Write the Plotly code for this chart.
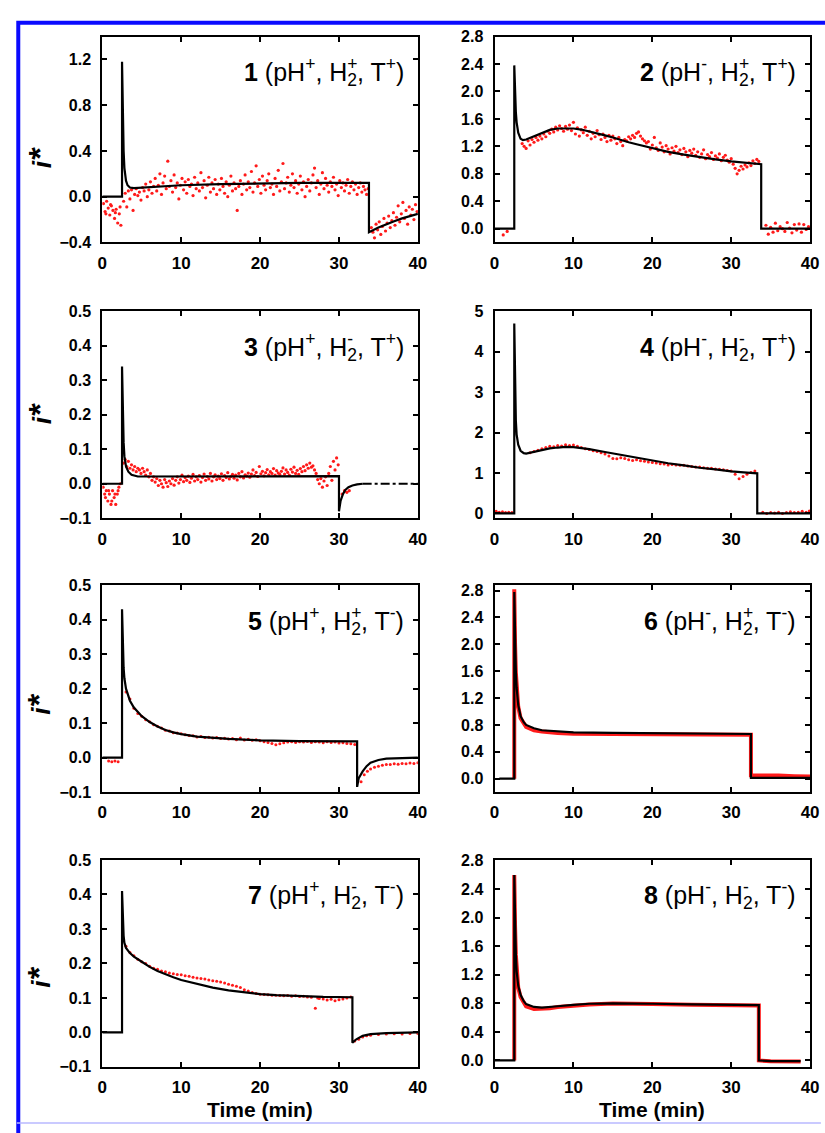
import plotly.graph_objects as go

W, H = 825, 1133
FONT = "Liberation Sans, Arial, sans-serif"
RED = "#ff1a1a"

# ---------------- panel 1 (pH+, H2+, T+) ----------------
fit1 = [(0, 0), (2.5, 0), (2.5, 1.18), (2.6, 0.7), (2.7, 0.4), (2.8, 0.25), (2.9, 0.18),
        (3.0, 0.14), (3.2, 0.10), (3.5, 0.08), (4, 0.075), (5, 0.08), (7, 0.09), (10, 0.10),
        (15, 0.11), (20, 0.115), (25, 0.12), (33.8, 0.12), (33.8, -0.31), (35, -0.27),
        (36, -0.24), (37, -0.215), (38, -0.19), (39, -0.17), (40, -0.15)]
p1_t = [0.15, 0.35, 0.55, 0.75, 0.95, 1.15, 1.35, 1.55, 1.75, 1.95, 2.15, 2.35, 0.45, 1.05, 1.65, 2.25,
        2.7, 2.9, 3.1, 3.3, 3.5, 3.7, 3.9, 4.1, 4.3, 4.5,
        4.7, 4.9, 5.1, 5.3, 5.5, 5.7, 5.9, 6.1, 6.3, 6.5,
        6.7, 6.9, 7.1, 7.3, 7.5, 7.7, 7.9, 8.1, 8.3, 8.5,
        8.7, 8.9, 9.1, 9.3, 9.5, 9.7, 9.9, 10.1, 10.3, 10.5,
        10.7, 10.9, 11.1, 11.3, 11.5, 11.7, 11.9, 12.1, 12.3, 12.5,
        12.7, 12.9, 13.1, 13.3, 13.5, 13.7, 13.9, 14.1, 14.3, 14.5,
        14.7, 14.9, 15.1, 15.3, 15.5, 15.7, 15.9, 16.1, 16.3, 16.5,
        16.7, 16.9, 17.1, 17.3, 17.5, 17.7, 17.9, 18.1, 18.3, 18.5,
        18.7, 18.9, 19.1, 19.3, 19.5, 19.7, 19.9, 20.1, 20.3, 20.5,
        20.7, 20.9, 21.1, 21.3, 21.5, 21.7, 21.9, 22.1, 22.3, 22.5,
        22.7, 22.9, 23.1, 23.3, 23.5, 23.7, 23.9, 24.1, 24.3, 24.5,
        24.7, 24.9, 25.1, 25.3, 25.5, 25.7, 25.9, 26.1, 26.3, 26.5,
        26.7, 26.9, 27.1, 27.3, 27.5, 27.7, 27.9, 28.1, 28.3, 28.5,
        28.7, 28.9, 29.1, 29.3, 29.5, 29.7, 29.9, 30.1, 30.3, 30.5,
        30.7, 30.9, 31.1, 31.3, 31.5, 31.7, 31.9, 32.1, 32.3, 32.5,
        32.7, 32.9, 33.1, 33.3, 33.5, 33.7,
        34.1, 34.3, 34.5, 34.7, 34.9, 35.1, 35.3, 35.5, 35.7, 35.9,
        36.1, 36.3, 36.5, 36.7, 36.9, 37.1, 37.3, 37.5, 37.7, 37.9,
        38.1, 38.3, 38.5, 38.7, 38.9, 39.1, 39.3, 39.5, 39.7, 39.9]
p1_y = [-0.06, -0.13, -0.04, -0.10, -0.16, -0.08, -0.12, -0.19, -0.11, -0.23, -0.15, -0.25, -0.15, -0.07, -0.14, -0.09,
        -0.04, 0.03, -0.09, 0.05, -0.02, 0.06, -0.12, 0.02, 0.07, 0.01,
        0.04, -0.03, 0.08, 0.05, 0.11, 0.00, 0.06, 0.13, 0.03, 0.09,
        0.16, 0.05, 0.10, 0.20, 0.02, 0.12, 0.18, 0.07, 0.31, 0.09,
        0.14, 0.04, 0.19, 0.08, 0.12, -0.02, 0.10, 0.16, 0.06, 0.13,
        0.03, 0.15, 0.09, 0.11, 0.01, 0.17, 0.07, 0.12, 0.05, 0.21,
        0.08, 0.14, -0.01, 0.10, 0.17, 0.04, 0.12, 0.07, 0.15, 0.02,
        0.11, 0.06, 0.16, 0.09, 0.03, 0.13, 0.00, 0.10, 0.18, 0.05,
        0.12, 0.07, -0.12, 0.09, 0.14, 0.02, 0.11, 0.19, 0.06, 0.13,
        0.08, 0.22, 0.04, 0.12, 0.27, 0.09, 0.15, 0.03, 0.18, 0.10,
        0.06, 0.14, 0.20, 0.08, 0.11, 0.02, 0.16, 0.09, 0.23, 0.05,
        0.13, 0.29, 0.07, 0.12, 0.17, 0.04, 0.10, 0.20, 0.08, 0.14,
        0.03, 0.11, 0.18, 0.06, 0.13, 0.00, 0.09, 0.15, 0.05, 0.12,
        0.19, 0.25, 0.08, 0.14, 0.02, 0.11, 0.21, 0.07, 0.16, 0.10,
        0.04, 0.13, 0.09, 0.17, 0.06, 0.11, 0.01, 0.14, 0.08, 0.12,
        0.05, 0.10, 0.15, 0.03, 0.09, 0.13, 0.06, 0.11, 0.02, 0.08,
        0.12, 0.04, 0.09, 0.06, 0.02, 0.07,
        -0.27, -0.31, -0.36, -0.24, -0.29, -0.22, -0.33, -0.26, -0.19, -0.30,
        -0.23, -0.17, -0.27, -0.21, -0.14, -0.25, -0.18, -0.08, -0.22, -0.15,
        -0.05, -0.19, -0.12, -0.24, -0.09, -0.16, -0.11, -0.20, -0.07, -0.13]

# ---------------- panel 2 (pH-, H2+, T+) ----------------
fit2 = [(0, 0), (2.5, 0), (2.5, 2.38), (2.6, 1.95), (2.7, 1.7), (2.8, 1.55), (3.0, 1.40),
        (3.3, 1.31), (3.6, 1.29), (4, 1.30), (5, 1.35), (6, 1.40), (7, 1.44), (8, 1.46),
        (9, 1.465), (10, 1.46), (11, 1.445), (12, 1.42), (13, 1.39), (14, 1.36), (15, 1.33),
        (16, 1.29), (17, 1.26), (18, 1.23), (19, 1.20), (20, 1.17), (22, 1.12), (24, 1.08),
        (26, 1.04), (28, 1.01), (30, 0.98), (32, 0.955), (33.8, 0.94), (33.8, 0), (40, 0)]
p2_t = [1.1, 1.6,
        3.5, 3.75, 4.0, 4.25, 4.5, 4.75, 5.0, 5.25,
        5.5, 5.75, 6.0, 6.25, 6.5, 6.75, 7.0, 7.25,
        7.5, 7.75, 8.0, 8.25, 8.5, 8.75, 9.0, 9.25,
        9.5, 9.75, 10.0, 10.25, 10.5, 10.75, 11.0, 11.25,
        11.5, 11.75, 12.0, 12.25, 12.5, 12.75, 13.0, 13.25,
        13.5, 13.75, 14.0, 14.25, 14.5, 14.75, 15.0, 15.25,
        15.5, 15.75, 16.0, 16.25, 16.5, 16.75, 17.0, 17.25,
        17.5, 17.75, 18.0, 18.25, 18.5, 18.75, 19.0, 19.25,
        19.5, 19.75, 20.0, 20.25, 20.5, 20.75, 21.0, 21.25,
        21.5, 21.75, 22.0, 22.25, 22.5, 22.75, 23.0, 23.25,
        23.5, 23.75, 24.0, 24.25, 24.5, 24.75, 25.0, 25.25,
        25.5, 25.75, 26.0, 26.25, 26.5, 26.75, 27.0, 27.25,
        27.5, 27.75, 28.0, 28.25, 28.5, 28.75, 29.0, 29.25,
        29.5, 29.75, 30.0, 30.25, 30.5, 30.75, 31.0, 31.25,
        31.5, 31.75, 32.0, 32.25, 32.5, 32.75, 33.0, 33.25,
        33.5,
        34.4, 34.7, 35.0, 35.3, 35.6, 35.9, 36.2, 36.5, 36.8, 37.1,
        37.4, 37.7, 38.0, 38.3, 38.6, 38.9, 39.2, 39.5, 39.8]
p2_y = [-0.09, -0.04,
        1.24, 1.20, 1.17, 1.28, 1.22, 1.30, 1.26, 1.33,
        1.29, 1.35, 1.31, 1.38, 1.34, 1.42, 1.39, 1.45,
        1.41, 1.48, 1.44, 1.50, 1.46, 1.42, 1.49, 1.45,
        1.51, 1.43, 1.55, 1.38, 1.47, 1.35, 1.44, 1.40,
        1.48, 1.36, 1.42, 1.31, 1.39, 1.34, 1.43, 1.37,
        1.30, 1.38, 1.33, 1.27, 1.36, 1.29, 1.35, 1.31,
        1.24, 1.33, 1.27, 1.21, 1.30, 1.28, 1.34, 1.31,
        1.36, 1.33, 1.39, 1.41, 1.35, 1.31, 1.28, 1.25,
        1.27, 1.16, 1.22, 1.33, 1.18, 1.14, 1.25, 1.19,
        1.12, 1.21, 1.16, 1.09, 1.18, 1.13, 1.20, 1.11,
        1.15, 1.08, 1.17, 1.12, 1.05, 1.14, 1.10, 1.16,
        1.07, 1.12, 1.04, 1.09, 1.15, 1.02, 1.08, 1.05,
        1.11, 1.01, 1.06, 1.03, 1.09, 0.99, 1.04, 1.07,
        1.00, 0.97, 1.02, 0.94, 0.88, 0.80, 0.85, 0.91,
        0.87, 0.93, 0.90, 0.96, 0.92, 0.99, 0.95, 1.01,
        0.98,
        0.05, -0.08, 0.02, -0.05, 0.08, -0.03, 0.03, 0.00, -0.04, 0.09,
        0.01, -0.06, 0.06, -0.02, 0.07, -0.05, 0.06, -0.01, 0.03]

# ---------------- panel 3 (pH+, H2-, T+) ----------------
fit3 = [(0, 0), (2.5, 0), (2.5, 0.34), (2.6, 0.2), (2.7, 0.12), (2.8, 0.08), (3.0, 0.05),
        (3.3, 0.035), (3.7, 0.026), (4.5, 0.021), (10, 0.021), (20, 0.022), (30.0, 0.022),
        (30.0, -0.08), (30.2, -0.05), (30.5, -0.03), (30.8, -0.018), (31.2, -0.01),
        (31.7, -0.005), (32.3, -0.002), (33.0, 0)]
tail3 = [(33.0, 0), (40, 0)]
p3_t = [0.1, 0.3, 0.5, 0.7, 0.9, 1.1, 1.3, 1.5, 1.7, 1.9, 2.1, 2.3, 0.4, 0.8, 1.2, 1.6, 2.0,
        2.7, 2.9, 3.1, 3.3, 3.5, 3.7, 3.9, 4.1, 4.3, 4.5,
        4.7, 4.9, 5.1, 5.3, 5.5, 5.7, 5.9, 6.1, 6.3, 6.5,
        6.7, 6.9, 7.1, 7.3, 7.5, 7.7, 7.9, 8.1, 8.3, 8.5,
        8.7, 8.9, 9.1, 9.3, 9.5, 9.7, 9.9, 10.1, 10.3, 10.5,
        10.7, 10.9, 11.1, 11.3, 11.5, 11.7, 11.9, 12.1, 12.3, 12.5,
        12.7, 12.9, 13.1, 13.3, 13.5, 13.7, 13.9, 14.1, 14.3, 14.5,
        14.7, 14.9, 15.1, 15.3, 15.5, 15.7, 15.9, 16.1, 16.3, 16.5,
        16.7, 16.9, 17.1, 17.3, 17.5, 17.7, 17.9, 18.1, 18.3, 18.5,
        18.7, 18.9, 19.1, 19.3, 19.5, 19.7, 19.9, 20.1, 20.3, 20.5,
        20.7, 20.9, 21.1, 21.3, 21.5, 21.7, 21.9, 22.1, 22.3, 22.5,
        22.7, 22.9, 23.1, 23.3, 23.5, 23.7, 23.9, 24.1, 24.3, 24.5,
        24.7, 24.9, 25.1, 25.3, 25.5, 25.7, 25.9, 26.1, 26.3, 26.5,
        26.7, 26.9, 27.1, 27.3, 27.5, 27.7, 27.9, 28.1, 28.3, 28.5,
        28.7, 28.9, 29.1, 29.3, 29.5, 29.7, 29.9,
        30.4, 30.7, 31.0, 31.3]
p3_y = [-0.01, -0.03, -0.02, -0.05, -0.03, -0.06, -0.02, -0.04, -0.06, -0.03, -0.01, 0.00, -0.04, -0.02, -0.05, -0.03, -0.02,
        0.06, 0.07, 0.05, 0.065, 0.045, 0.055, 0.04, 0.05, 0.035, 0.045,
        0.04, 0.03, 0.045, 0.035, 0.025, 0.04, 0.02, 0.03, 0.01, 0.02,
        0.005, 0.015, -0.005, 0.01, 0.0, -0.01, 0.012, 0.003, -0.008, 0.008,
        0.0, 0.015, -0.004, 0.01, 0.02, 0.002, 0.012, 0.025, 0.006, 0.018,
        0.01, 0.022, 0.004, 0.016, 0.027, 0.008, 0.02, 0.012, 0.024, 0.005,
        0.018, 0.028, 0.01, 0.021, 0.014, 0.03, 0.008, 0.02, 0.026, 0.012,
        0.022, 0.015, 0.029, 0.01, 0.024, 0.018, 0.032, 0.014, 0.021, 0.027,
        0.016, 0.025, 0.011, 0.03, 0.02, 0.035, 0.017, 0.026, 0.022, 0.031,
        0.019, 0.028, 0.04, 0.024, 0.033, 0.021, 0.05, 0.029, 0.036, 0.023,
        0.032, 0.041, 0.026, 0.035, 0.03, 0.044, 0.025, 0.038, 0.031, 0.027,
        0.036, 0.046, 0.028, 0.04, 0.033, 0.025, 0.042, 0.034, 0.048, 0.03,
        0.039, 0.027, 0.044, 0.035, 0.05, 0.038, 0.055, 0.045, 0.06, 0.048,
        0.052, 0.04, 0.03, 0.012, 0.0, 0.015, -0.01, 0.008, 0.02, -0.005,
        0.03, 0.05, 0.01, 0.065, 0.04, 0.075, 0.055,
        -0.03, -0.02, -0.025, -0.02]

# ---------------- panel 4 (pH-, H2-, T+) ----------------
fit4 = [(0, 0), (2.5, 0), (2.5, 4.7), (2.6, 3.0), (2.7, 2.3), (2.8, 1.95), (3.0, 1.7),
        (3.3, 1.55), (3.7, 1.49), (4, 1.48), (5, 1.52), (6, 1.57), (7, 1.61), (8, 1.63),
        (9, 1.645), (10, 1.64), (11, 1.62), (12, 1.59), (14, 1.52), (16, 1.45), (18, 1.37),
        (20, 1.30), (22, 1.24), (24, 1.19), (26, 1.13), (28, 1.09), (30, 1.04), (32, 1.01),
        (33.3, 0.99), (33.3, 0), (40, 0)]
data4 = [(0.2, 0.05), (0.6, 0.03), (1.0, 0.04), (1.4, 0.02), (1.8, 0.03), (2.2, 0.02),
         (4.5, 1.50), (5.0, 1.53), (5.5, 1.56), (6.0, 1.60), (6.5, 1.63), (7.0, 1.66),
         (7.5, 1.65), (8.0, 1.68), (8.5, 1.67), (9.0, 1.70), (9.5, 1.68), (10.0, 1.69),
         (10.5, 1.66), (11.0, 1.63), (11.5, 1.60), (12.0, 1.58), (12.5, 1.55), (13.0, 1.53),
         (13.5, 1.50), (14.0, 1.47), (14.5, 1.42), (15.0, 1.36), (15.5, 1.35), (16.0, 1.38),
         (16.5, 1.36), (17.0, 1.33), (17.5, 1.31), (18.0, 1.33), (18.5, 1.30), (19.0, 1.29),
         (19.5, 1.27), (20.0, 1.26), (20.5, 1.25), (21.0, 1.23), (21.5, 1.22), (22.0, 1.20),
         (22.5, 1.21), (23.0, 1.20), (23.5, 1.19), (24.0, 1.19), (24.5, 1.17), (25.0, 1.16),
         (25.5, 1.15), (26.0, 1.15), (26.5, 1.13), (27.0, 1.12), (27.5, 1.12), (28.0, 1.10),
         (28.5, 1.09), (29.0, 1.08), (29.5, 1.06), (30.0, 1.05), (30.5, 0.97), (31.0, 0.86),
         (31.5, 0.91), (32.0, 0.97), (32.5, 1.01), (33.0, 1.05),
         (34.0, 0.03), (34.5, 0.0), (35.0, 0.02), (35.5, 0.01), (36.0, 0.03), (36.5, 0.0),
         (37.0, 0.02), (37.5, 0.04), (38.0, 0.02), (38.5, 0.03), (39.0, 0.05), (39.5, 0.03),
         (39.9, 0.06)]

# ---------------- panel 5 (pH+, H2+, T-) ----------------
fit5 = [(0, 0), (2.5, 0), (2.5, 0.43), (2.6, 0.31), (2.7, 0.26), (2.8, 0.23), (3.0, 0.2),
        (3.5, 0.165), (4, 0.145), (5, 0.12), (6, 0.103), (7, 0.09), (8, 0.08), (9, 0.073),
        (10, 0.068), (12, 0.061), (14, 0.057), (16, 0.054), (18, 0.052), (20, 0.05),
        (25, 0.048), (32.3, 0.047), (32.3, -0.085), (32.5, -0.06), (33, -0.04), (33.5, -0.025),
        (34, -0.015), (35, -0.007), (36, -0.003), (38, -0.001), (40, 0)]
data5 = [(0.8, -0.01), (1.2, -0.012), (1.6, -0.01), (2.0, -0.012),
         (3.0, 0.19), (3.5, 0.17), (4.0, 0.143), (4.5, 0.128), (5.0, 0.12), (5.5, 0.11),
         (6.0, 0.104), (6.5, 0.095), (7.0, 0.091), (7.5, 0.086), (8.0, 0.079), (8.5, 0.077),
         (9.0, 0.072), (9.5, 0.071), (10.0, 0.069), (10.5, 0.066), (11.0, 0.064), (11.5, 0.063),
         (12.0, 0.06), (12.5, 0.061), (13.0, 0.058), (13.5, 0.059), (14.0, 0.057), (14.5, 0.058),
         (15.0, 0.055), (15.5, 0.056), (16.0, 0.054), (16.5, 0.055), (17.0, 0.052), (17.5, 0.057),
         (18.0, 0.051), (18.5, 0.053), (19.0, 0.05), (19.5, 0.052), (20.0, 0.049), (20.5, 0.046),
         (21.0, 0.044), (21.5, 0.041), (22.0, 0.037), (22.5, 0.04), (23.0, 0.043), (23.5, 0.045),
         (24.0, 0.046), (24.5, 0.044), (25.0, 0.046), (25.5, 0.045), (26.0, 0.047), (26.5, 0.044),
         (27.0, 0.046), (27.5, 0.045), (28.0, 0.043), (28.5, 0.046), (29.0, 0.044), (29.5, 0.045),
         (30.0, 0.042), (30.5, 0.043), (31.0, 0.041), (31.5, 0.04), (32.0, 0.038),
         (32.8, -0.07), (33.2, -0.05), (33.6, -0.04), (34.0, -0.033), (34.5, -0.028),
         (35.0, -0.025), (35.5, -0.022), (36.0, -0.02), (36.5, -0.02), (37.0, -0.018),
         (37.5, -0.019), (38.0, -0.017), (38.5, -0.018), (39.0, -0.016), (39.5, -0.017),
         (40.0, -0.015)]

# ---------------- panel 6 (pH-, H2+, T-) ----------------
fit6 = [(0.6, 0), (2.5, 0), (2.5, 2.78), (2.6, 2.02), (2.7, 1.6), (2.8, 1.35), (3.0, 1.1),
        (3.3, 0.93), (3.7, 0.84), (4.0, 0.80), (4.5, 0.77), (5.0, 0.75), (6.0, 0.72),
        (7, 0.71), (8, 0.70), (10, 0.69), (15, 0.68), (20, 0.675), (25, 0.67), (32.5, 0.665),
        (32.5, 0.01), (40, 0.01)]
data6 = [(2.5, 0.0), (2.5, 2.82), (2.6, 2.0), (2.7, 1.58), (2.8, 1.32), (3.0, 1.07),
         (3.3, 0.9), (3.7, 0.81), (4.0, 0.77), (5.0, 0.72), (6.0, 0.70), (8.0, 0.68),
         (10.0, 0.67), (15.0, 0.665), (20.0, 0.66), (25, 0.66), (32.5, 0.655), (32.5, 0.05),
         (34, 0.05), (36, 0.045), (38, 0.035), (40, 0.03)]

# ---------------- panel 7 (pH+, H2-, T-) ----------------
fit7 = [(0, 0), (2.5, 0), (2.5, 0.41), (2.6, 0.32), (2.7, 0.28), (2.8, 0.26), (3.0, 0.245),
        (3.5, 0.23), (4, 0.22), (5, 0.205), (6, 0.19), (7, 0.178), (8, 0.168), (9, 0.16),
        (10, 0.152), (12, 0.14), (14, 0.13), (16, 0.122), (18, 0.116), (20, 0.111),
        (22, 0.108), (25, 0.105), (28, 0.103), (31.7, 0.102), (31.7, -0.03), (32.2, -0.02),
        (33, -0.01), (34, -0.005), (36, -0.002), (40, 0)]
data7 = [(3.0, 0.25), (3.5, 0.232), (4.0, 0.222), (4.5, 0.212), (5.0, 0.205), (5.5, 0.2),
         (6.0, 0.192), (6.5, 0.186), (7.0, 0.183), (7.5, 0.178), (8.0, 0.176), (8.5, 0.172),
         (9.0, 0.17), (9.5, 0.168), (10.0, 0.167), (10.5, 0.164), (11.0, 0.163), (11.5, 0.16),
         (12.0, 0.158), (12.5, 0.156), (13.0, 0.155), (13.5, 0.152), (14.0, 0.15), (14.5, 0.148),
         (15.0, 0.146), (15.5, 0.143), (16.0, 0.14), (16.5, 0.137), (17.0, 0.134), (17.5, 0.13),
         (18.0, 0.124), (18.5, 0.12), (19.0, 0.116), (19.5, 0.113), (20.0, 0.111), (20.5, 0.11),
         (21.0, 0.109), (21.5, 0.108), (22.0, 0.108), (22.5, 0.107), (23.0, 0.106), (23.5, 0.107),
         (24.0, 0.105), (24.5, 0.106), (25.0, 0.104), (25.5, 0.105), (26.0, 0.103), (26.5, 0.102),
         (27.0, 0.07), (27.3, 0.1), (27.5, 0.098), (28.0, 0.097), (28.5, 0.094), (29.0, 0.096),
         (29.5, 0.092), (30.0, 0.095), (30.5, 0.097), (31.0, 0.1), (31.5, 0.103),
         (32.0, -0.025), (32.5, -0.02), (33.0, -0.013), (33.5, -0.01), (34, -0.008),
         (35, -0.006), (36, -0.005), (37, -0.004), (38, -0.005), (39, -0.003), (40, -0.003)]

# ---------------- panel 8 (pH-, H2-, T-) ----------------
fit8 = [(0, 0), (2.5, 0), (2.5, 2.6), (2.6, 1.9), (2.7, 1.5), (2.8, 1.25), (3.0, 1.05),
        (3.3, 0.92), (3.7, 0.83), (4, 0.79), (5, 0.75), (6, 0.74), (7, 0.745), (8, 0.76),
        (10, 0.78), (12, 0.795), (15, 0.80), (18, 0.80), (20, 0.795), (25, 0.785), (30, 0.78),
        (33.5, 0.775), (33.5, 0), (35, -0.01), (38.8, -0.01)]
data8 = [(2.5, 0), (2.5, 2.6), (2.6, 1.88), (2.7, 1.48), (2.8, 1.22), (3.0, 1.02), (3.3, 0.89),
         (3.7, 0.8), (4.0, 0.76), (5.0, 0.72), (6.0, 0.72), (7, 0.73), (8, 0.75), (10, 0.77),
         (12, 0.785), (15, 0.8), (18, 0.8), (20, 0.79), (25, 0.78), (30, 0.775), (33.5, 0.77),
         (33.5, 0.0), (35, -0.01), (38.8, -0.015)]

# axis ranges and tick values per panel
y_ranges = [[-0.4, 1.4], [-0.2, 2.8], [-0.1, 0.5], [-0.12, 5.0],
            [-0.1, 0.5], [-0.2, 2.88], [-0.1, 0.5], [-0.09, 2.81]]
y_ticks = [[-0.4, 0.0, 0.4, 0.8, 1.2],
           [0.0, 0.4, 0.8, 1.2, 1.6, 2.0, 2.4, 2.8],
           [-0.1, 0.0, 0.1, 0.2, 0.3, 0.4, 0.5],
           [0, 1, 2, 3, 4, 5],
           [-0.1, 0.0, 0.1, 0.2, 0.3, 0.4, 0.5],
           [0.0, 0.4, 0.8, 1.2, 1.6, 2.0, 2.4, 2.8],
           [-0.1, 0.0, 0.1, 0.2, 0.3, 0.4, 0.5],
           [0.0, 0.4, 0.8, 1.2, 1.6, 2.0, 2.4, 2.8]]
y_formats = [".1f", ".1f", ".1f", "d", ".1f", ".1f", ".1f", ".1f"]
x_ticks = [0, 10, 20, 30, 40]

# panel labels: (number, pH sign, H2 sign, T sign)
labels = [("1", "+", "+", "+"), ("2", "-", "+", "+"), ("3", "+", "-", "+"), ("4", "-", "-", "+"),
          ("5", "+", "+", "-"), ("6", "-", "+", "-"), ("7", "+", "-", "-"), ("8", "-", "-", "-")]

# panel frames in pixels: columns (left, right) and rows (top, bottom)
COLS = [(99, 420), (498, 819)]
ROWS = [(29, 238), (308, 518), (586, 796), (865, 1075)]


def px_x(x):
    return x / W


def px_y(y):
    return 1 - y / H


def unzip(pairs):
    return [p[0] for p in pairs], [p[1] for p in pairs]


def label_html(n, ph, h2, t):
    shift = "-0.584em" if h2 == "+" else "-0.333em"
    return (f"<b>{n}</b> (pH<sup>{ph}</sup>, H<sup><span style='letter-spacing:{shift}'>{h2}</span></sup>"
            f"<sub>2</sub>, T<sup>{t}</sup>)")


fig = go.Figure()

scatter_sets = {1: (p1_t, p1_y), 2: (p2_t, p2_y), 3: (p3_t, p3_y),
                4: unzip(data4), 5: unzip(data5), 7: unzip(data7)}
line_sets = {6: unzip(data6), 8: unzip(data8)}
fits = {1: fit1, 2: fit2, 3: fit3, 4: fit4, 5: fit5, 6: fit6, 7: fit7, 8: fit8}

for i in range(1, 9):
    xa = "x" if i == 1 else f"x{i}"
    ya = "y" if i == 1 else f"y{i}"
    if i in scatter_sets:
        tx, ty = scatter_sets[i]
        size = 3.2 if i in (1, 2, 3) else 3.0
        fig.add_trace(go.Scatter(x=tx, y=ty, mode="markers", xaxis=xa, yaxis=ya,
                                 marker=dict(color=RED, size=size, line=dict(width=0)),
                                 showlegend=False, hoverinfo="skip"))
    if i in line_sets:
        tx, ty = line_sets[i]
        fig.add_trace(go.Scatter(x=tx, y=ty, mode="lines", xaxis=xa, yaxis=ya,
                                 line=dict(color=RED, width=4), showlegend=False, hoverinfo="skip"))
    fx, fy = unzip(fits[i])
    fig.add_trace(go.Scatter(x=fx, y=fy, mode="lines", xaxis=xa, yaxis=ya,
                             line=dict(color="black", width=2.2), showlegend=False, hoverinfo="skip"))
    if i == 3:
        tx, ty = unzip(tail3)
        fig.add_trace(go.Scatter(x=tx, y=ty, mode="lines", xaxis=xa, yaxis=ya,
                                 line=dict(color="black", width=2, dash="dashdot"),
                                 showlegend=False, hoverinfo="skip"))

axis_style = dict(showline=True, linecolor="black", linewidth=2, mirror="ticks",
                  ticks="inside", ticklen=5, tickwidth=1.6, tickcolor="black",
                  showgrid=False, zeroline=False)

layout = dict(width=W, height=H, margin=dict(l=0, r=0, t=0, b=0),
              paper_bgcolor="white", plot_bgcolor="white", showlegend=False)
annotations = []
for i in range(1, 9):
    r, c = (i - 1) // 2, (i - 1) % 2
    (x0, x1), (y0, y1) = COLS[c], ROWS[r]
    suffix = "" if i == 1 else str(i)
    layout[f"xaxis{suffix}"] = dict(
        axis_style, domain=[px_x(x0), px_x(x1)], range=[0, 40], tickvals=x_ticks,
        anchor=f"y{suffix}", ticklabelstandoff=4,
        tickfont=dict(family=FONT, size=17, color="black", weight="bold"))
    layout[f"yaxis{suffix}"] = dict(
        axis_style, domain=[px_y(y1), px_y(y0)], range=y_ranges[i - 1], tickvals=y_ticks[i - 1],
        tickformat=y_formats[i - 1], anchor=f"x{suffix}", ticklabelstandoff=6,
        tickfont=dict(family=FONT, size=16, color="black", weight="bold"))
    annotations.append(dict(
        text=label_html(*labels[i - 1]), xref="paper", yref="paper",
        x=px_x(x1 - 12), y=px_y(y0 + 36), xanchor="right", yanchor="middle",
        showarrow=False, font=dict(family=FONT, size=25, color="black")))

# y-axis title on the left column
for yc in (152, 412, 707, 984):
    annotations.append(dict(text="<b><i>i<span style='font-size:32px'>*</span></i></b>",
                            xref="paper", yref="paper",
                            x=px_x(35), y=px_y(yc), xanchor="center", yanchor="middle",
                            textangle=-90, showarrow=False,
                            font=dict(family=FONT, size=26, color="black")))
# x-axis titles under the bottom row
for xc in (259.5, 658.5):
    annotations.append(dict(text="<b>Time (min)</b>", xref="paper", yref="paper",
                            x=px_x(xc), y=px_y(1118), xanchor="center", yanchor="middle",
                            showarrow=False, font=dict(family=FONT, size=21, color="black")))
layout["annotations"] = annotations

# blue frame around the figure
layout["shapes"] = [
    dict(type="rect", xref="paper", yref="paper", x0=px_x(13.5), x1=px_x(845),
         y0=px_y(15), y1=px_y(1145), line=dict(color="#0a0aff", width=4), layer="above"),
    dict(type="line", xref="paper", yref="paper", x0=px_x(12), x1=px_x(830),
         y0=px_y(1132), y1=px_y(1132), line=dict(color="#b8b8ff", width=1.5), layer="above"),
]

fig.update_layout(**layout)
fig.write_html("out.html")
